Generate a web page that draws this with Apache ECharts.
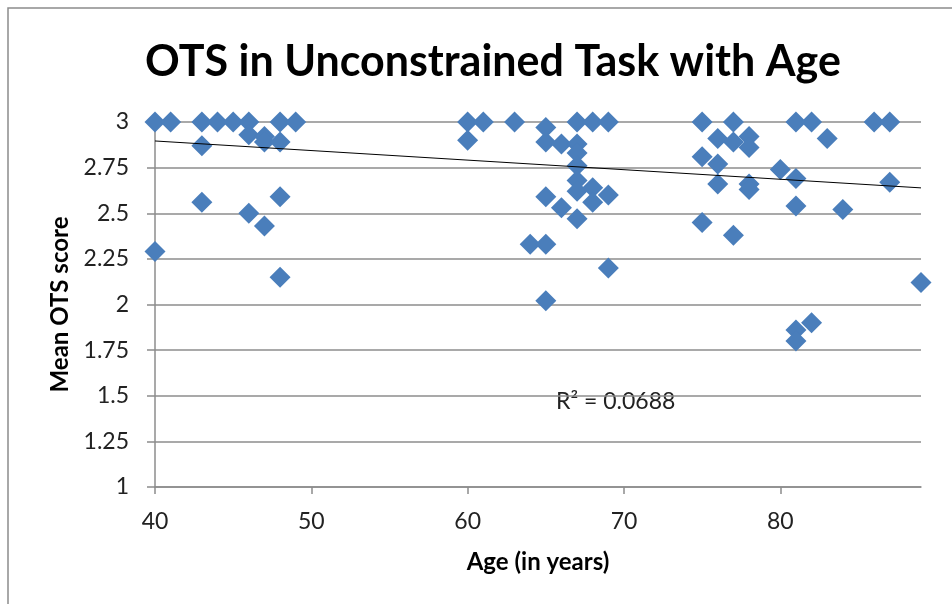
<!DOCTYPE html>
<html>
<head>
<meta charset="utf-8">
<script src="https://cdn.jsdelivr.net/npm/echarts@6/dist/echarts.min.js"></script>
<style>
    html, body {margin: 0; padding: 0; background: #ffffff;}
    #chart {width: 952px; height: 604px;}
</style>
</head>
<body>
<div id="chart"></div>
<script>
// ages and mean OTS scores
const ages = [40, 40, 41, 43, 43, 43, 44, 45, 46, 46, 46, 47, 47, 47, 48, 48, 48, 48, 49,
    60, 60, 61, 63, 64, 65, 65, 65, 65, 65, 66, 66, 67, 67, 67, 67, 67, 67, 67, 68, 68, 68, 69, 69, 69,
    75, 75, 75, 76, 76, 76, 77, 77, 77, 78, 78, 78, 78, 80, 81, 81, 81, 81, 81, 82, 82, 83, 84, 86, 87, 87, 89]
const scores = [3, 2.29, 3, 3, 2.87, 2.56, 3, 3, 3, 2.93, 2.50, 2.92, 2.89, 2.43, 3, 2.89, 2.59, 2.15, 3,
    3, 2.90, 3, 3, 2.33, 2.97, 2.89, 2.59, 2.33, 2.02, 2.88, 2.53, 3, 2.88, 2.83, 2.76, 2.68, 2.62, 2.47, 3, 2.64, 2.56, 3, 2.60, 2.20,
    3, 2.81, 2.45, 2.91, 2.77, 2.66, 3, 2.89, 2.38, 2.92, 2.86, 2.66, 2.63, 2.74, 3, 2.69, 2.54, 1.86, 1.80, 3, 1.90, 2.91, 2.52, 3, 3, 2.67, 2.12]

// linear trend line ends as drawn
const trendAges = [40, 89]
const trendScores = [2.896, 2.639]

const xTicks = [40, 50, 60, 70, 80]

let points = ages.map((a, i) => [a, scores[i]])
let trend = trendAges.map((a, i) => [a, trendScores[i]])

const labelFont = "Lato"
let chartDom = document.getElementById('chart')
let myChart = echarts.init(chartDom, null, {renderer: 'canvas'})

let option = {
    animation: false,
    title: {
        text: 'OTS in Unconstrained Task with Age',
        left: 488,
        top: 36,
        textAlign: 'center',
        textStyle: {fontFamily: labelFont, fontWeight: 'bold', fontSize: 43, color: '#000000'}
    },
    graphic: [
        {
            type: 'rect',
            shape: {x: 8, y: 8, width: 1100, height: 1100},
            style: {fill: 'none', stroke: '#8c8c8c', lineWidth: 1.5},
            silent: true
        },
        {
            type: 'text',
            left: 556,
            top: 390,
            style: {text: 'R² = 0.0688', font: '23px Lato', fill: '#222222'}
        }
    ],
    grid: {left: 155, right: 31, top: 122, bottom: 117},
    xAxis: {
        type: 'value',
        min: 40,
        max: 89,
        interval: 10,
        name: 'Age (in years)',
        nameLocation: 'middle',
        nameGap: 63,
        nameTextStyle: {fontFamily: labelFont, fontWeight: 'bold', fontSize: 24, color: '#000000'},
        axisLine: {show: true, lineStyle: {color: '#8c8c8c', width: 1.5}},
        axisTick: {show: true, length: 7, customValues: xTicks, lineStyle: {color: '#8c8c8c', width: 1.5}},
        axisLabel: {customValues: xTicks, margin: 23, fontFamily: labelFont, fontSize: 23, color: '#222222'},
        splitLine: {show: false}
    },
    yAxis: {
        type: 'value',
        min: 1,
        max: 3,
        interval: 0.25,
        name: 'Mean OTS score',
        nameLocation: 'middle',
        nameGap: 80,
        nameTextStyle: {fontFamily: labelFont, fontWeight: 'bold', fontSize: 24, color: '#000000'},
        axisLine: {show: true, lineStyle: {color: '#8c8c8c', width: 1.5}},
        axisTick: {show: true, length: 8, lineStyle: {color: '#8c8c8c', width: 1.5}},
        axisLabel: {margin: 26, fontFamily: labelFont, fontSize: 23, color: '#222222'},
        splitLine: {show: true, lineStyle: {color: '#8c8c8c', width: 1.5}}
    },
    series: [
        {
            type: 'scatter',
            data: points,
            symbol: 'diamond',
            symbolSize: 21,
            itemStyle: {color: '#4a7ebb', opacity: 1},
            z: 3
        },
        {
            type: 'line',
            data: trend,
            symbol: 'none',
            lineStyle: {color: '#000000', width: 1},
            z: 4
        }
    ]
}
myChart.setOption(option)
</script>
</body>
</html>
